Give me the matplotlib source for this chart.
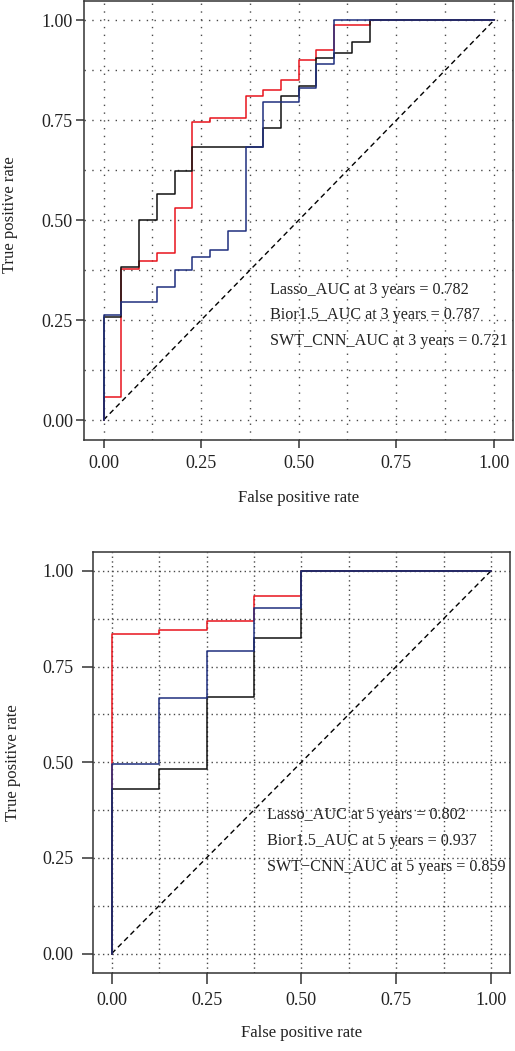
import matplotlib
matplotlib.use("Agg")
import matplotlib.pyplot as plt
from matplotlib.ticker import MultipleLocator

plt.rcParams['font.family'] = ['Liberation Serif', 'DejaVu Serif']

# ---------------- data: 3 years ----------------
fpr3_bior = [0, 0, 0.045, 0.091, 0.136, 0.182, 0.227, 0.273, 0.364, 0.409, 0.455, 0.500, 0.545, 0.591, 0.682, 1.0]
tpr3_bior = [0, 0.057, 0.377, 0.398, 0.417, 0.531, 0.745, 0.757, 0.810, 0.825, 0.851, 0.902, 0.925, 0.988, 1.0, 1.0]

fpr3_lasso = [0, 0, 0.045, 0.091, 0.136, 0.182, 0.227, 0.409, 0.455, 0.500, 0.545, 0.591, 0.636, 0.682, 1.0]
tpr3_lasso = [0, 0.259, 0.382, 0.501, 0.566, 0.623, 0.684, 0.731, 0.810, 0.835, 0.907, 0.918, 0.947, 1.0, 1.0]

fpr3_swt = [0, 0, 0.045, 0.136, 0.182, 0.227, 0.273, 0.318, 0.364, 0.409, 0.500, 0.545, 0.591, 1.0]
tpr3_swt = [0, 0.264, 0.296, 0.334, 0.376, 0.407, 0.426, 0.472, 0.684, 0.795, 0.831, 0.890, 1.0, 1.0]

labels3 = ["Lasso_AUC at 3 years = 0.782",
           "Bior1.5_AUC at 3 years = 0.787",
           "SWT_CNN_AUC at 3 years = 0.721"]

# ---------------- data: 5 years ----------------
fpr5 = [0, 0, 0.125, 0.25, 0.375, 0.5, 1.0]
tpr5_bior = [0, 0.834, 0.845, 0.869, 0.934, 1.0, 1.0]
tpr5_swt = [0, 0.495, 0.669, 0.791, 0.902, 1.0, 1.0]
tpr5_lasso = [0, 0.430, 0.483, 0.671, 0.825, 1.0, 1.0]

labels5 = ["Lasso_AUC at 5 years = 0.802",
           "Bior1.5_AUC at 5 years = 0.937",
           "SWT\u2212CNN_AUC at 5 years = 0.859"]

ticks = [0.00, 0.25, 0.50, 0.75, 1.00]
tick_labels = ["0.00", "0.25", "0.50", "0.75", "1.00"]

RED = "#e8141c"
BLUE = "#1f2f7e"
BLACK = "#111111"

W, H = 515, 1051
fig = plt.figure(figsize=(W / 100, H / 100), dpi=100)


def ax_rect(l, t, r, b):
    return [l / W, 1 - b / H, (r - l) / W, (b - t) / H]


def style(ax, ticklen, pad_x, pad_y, dots):
    ax.set_xlim(-0.05, 1.05)
    ax.set_ylim(-0.05, 1.05)
    ax.set_xticks(ticks)
    ax.set_xticklabels(tick_labels)
    ax.set_yticks(ticks)
    ax.set_yticklabels(tick_labels)
    ax.xaxis.set_minor_locator(MultipleLocator(0.125))
    ax.yaxis.set_minor_locator(MultipleLocator(0.125))
    ax.tick_params(which='minor', length=0)
    ax.tick_params(which='major', axis='x', length=ticklen, width=1.1, color='#333333',
                   labelsize=13, pad=pad_x, labelcolor='#222222')
    ax.tick_params(which='major', axis='y', length=ticklen, width=1.1, color='#333333',
                   labelsize=13, pad=pad_y, labelcolor='#222222')
    ax.grid(which='both', color='#4a4a4a', linewidth=1.0, linestyle=(0, dots))
    ax.set_axisbelow(True)
    for s in ax.spines.values():
        s.set_linewidth(1.1)
        s.set_color('#333333')
    ax.set_xlabel("False positive rate", fontsize=12, color='#222222')
    ax.set_ylabel("True positive rate", fontsize=12, color='#222222')


# ---------------- top panel ----------------
ax1 = fig.add_axes(ax_rect(84, 0.5, 513.3, 440))
style(ax1, 6, 4.5, 2.0, (1, 4.6))
ax1.plot([0, 1], [0, 1], color='black', lw=1.0, linestyle=(0, (3.8, 2.6)))
ax1.step(fpr3_bior, tpr3_bior, where='post', color=RED, lw=1.1)
ax1.step(fpr3_lasso, tpr3_lasso, where='post', color=BLACK, lw=1.1)
ax1.step(fpr3_swt, tpr3_swt, where='post', color=BLUE, lw=1.1)
for i, t in enumerate(labels3):
    ax1.text(0.426, 0.326 - i * 0.0643, t, fontsize=11.6, ha='left', va='center', color='#222222')
ax1.xaxis.set_label_coords(0.5, -0.132)
ax1.xaxis.label.set_va('center')
ax1.yaxis.set_label_coords(-0.1735, 0.513)
ax1.yaxis.label.set_va('center')

# ---------------- bottom panel ----------------
ax2 = fig.add_axes(ax_rect(92.7, 551.7, 510, 972.7))
style(ax2, 8, 6.0, 6.0, (1, 2.4))
ax2.plot([0, 1], [0, 1], color='black', lw=1.0, linestyle=(0, (3.8, 2.6)))
ax2.step(fpr5, tpr5_bior, where='post', color=RED, lw=1.1)
ax2.step(fpr5, tpr5_lasso, where='post', color=BLACK, lw=1.1)
ax2.step(fpr5, tpr5_swt, where='post', color=BLUE, lw=1.1)
for i, t in enumerate(labels5):
    ax2.text(0.4086, 0.361 - i * 0.0672, t, fontsize=11.6, ha='left', va='center', color='#222222')
ax2.xaxis.set_label_coords(0.5, -0.143)
ax2.xaxis.label.set_va('center')
ax2.yaxis.set_label_coords(-0.191, 0.5)
ax2.yaxis.label.set_va('center')

fig.savefig("out.png", dpi=100)
